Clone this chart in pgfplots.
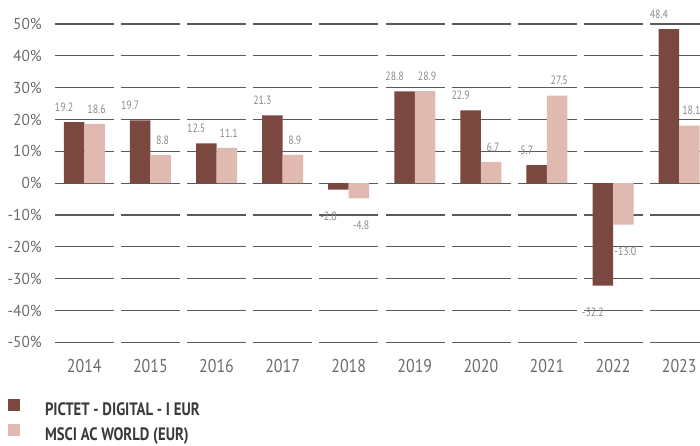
\documentclass[border=0pt]{standalone}
\usepackage{fontspec}
\setmainfont{PT Sans}
\newfontfamily\cond[FakeStretch=0.82]{PT Sans}
\newfontfamily\xcond[FakeStretch=0.86]{PT Sans}
\newfontfamily\ycond[FakeStretch=0.97]{PT Sans}
\usepackage{pgfplots}
\pgfplotsset{compat=1.18}
\usepackage{pgfplotstable}
\definecolor{dark}{HTML}{7B4840}
\definecolor{light}{HTML}{E0B9B0}
\definecolor{gridc}{HTML}{5A5A5A}
\definecolor{tickc}{HTML}{6B6B6B}
\definecolor{labc}{HTML}{8A8A8A}
\definecolor{legc}{HTML}{3A3A3A}

\pgfplotstableread{
x y lab
0 19.2 19.2
1 19.7 19.7
2 12.5 12.5
3 21.3 21.3
4 -2.0 -2.0
5 28.8 28.8
6 22.9 22.9
7 5.7 5.7
8 -32.2 -32.2
9 48.4 48.4
}\pictet

\pgfplotstableread{
x y lab
0 18.6 18.6
1 8.8 8.8
2 11.1 11.1
3 8.9 8.9
4 -4.8 -4.8
5 28.9 28.9
6 6.7 6.7
7 27.5 27.5
8 -13.0 -13.0
9 18.1 18.1
}\msci

\begin{document}
\begin{tikzpicture}
\path[use as bounding box, clip] (0,0) rectangle (700bp,446bp);
\begin{axis}[
  at={(50bp,103.7bp)}, anchor=south west,
  scale only axis, width=650bp, height=318.3bp,
  xmin=-0.519, xmax=9.315, ymin=-50, ymax=50,
  clip=false,
  axis line style={draw=none},
  major tick length=0pt,
  xtick={0,1,2,3,4,5,6,7,8,9},
  xticklabels={2014,2015,2016,2017,2018,2019,2020,2021,2022,2023},
  ytick={-50,-40,-30,-20,-10,0,10,20,30,40,50},
  yticklabels={-50\%,-40\%,-30\%,-20\%,-10\%,0\%,10\%,20\%,30\%,40\%,50\%},
  xticklabel style={font=\xcond\fontsize{18.5bp}{18.5bp}\selectfont, text=tickc, anchor=center, yshift=-24bp},
  yticklabel style={font=\ycond\fontsize{15.8bp}{15.8bp}\selectfont, text=tickc, anchor=east, inner sep=0pt, xshift=-8bp},
  ymajorgrids, xmajorgrids=false,
  major grid style={draw=gridc, line width=1.3bp, dash pattern=on 59bp off 7.1bp, dash phase=61.1bp},
  ybar=0pt, bar width=20.5bp,
  nodes near coords align={anchor=center},
  legend style={draw=none, fill=none, at={(axis description cs:-0.0646,-0.1775)}, anchor=north west,
    inner sep=0pt, outer sep=0pt, row sep=4bp,
    font=\cond\bfseries\fontsize{18bp}{18bp}\selectfont, text=legc,
    nodes={inner sep=0pt, outer sep=0pt, text height=13bp, text depth=4bp},
    /tikz/every odd column/.append style={column sep=25bp}},
  legend cell align=left,
  legend image code/.code={\path[#1, draw=none] (0bp,0.3bp) rectangle (12bp,12.3bp);},
]
\addplot[fill=dark, draw=none,
  point meta=explicit symbolic,
  visualization depends on={\thisrow{y} \as \rawy},
  nodes near coords,
  every node near coord/.append style={font=\cond\fontsize{12bp}{12bp}\selectfont, text=labc, anchor=center, xshift=-10bp, yshift={(\rawy<0 ? -27 : 15)}}]
  table[x=x, y=y, meta=lab]{\pictet};
\addplot[fill=light, draw=none,
  point meta=explicit symbolic,
  visualization depends on={\thisrow{y} \as \rawy},
  nodes near coords,
  every node near coord/.append style={font=\cond\fontsize{12bp}{12bp}\selectfont, text=labc, anchor=center, xshift=2bp, yshift={(\rawy<0 ? -27 : 15)}}]
  table[x=x, y=y, meta=lab]{\msci};
\legend{PICTET - DIGITAL - I EUR, MSCI AC WORLD (EUR)}
\end{axis}
\end{tikzpicture}
\end{document}
